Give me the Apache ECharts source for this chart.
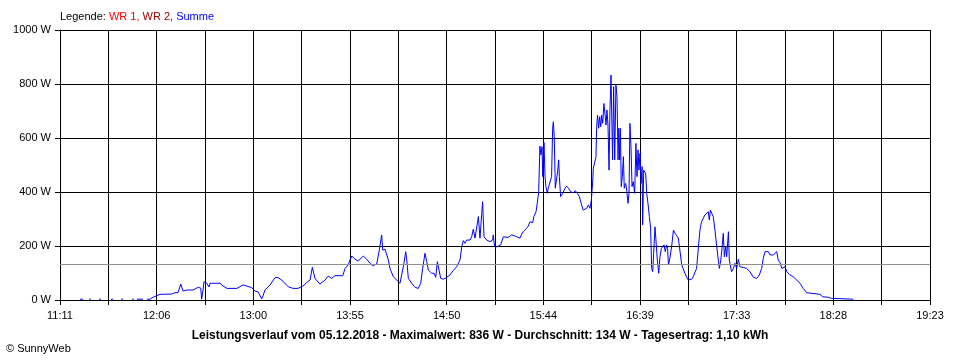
<!DOCTYPE html>
<html><head><meta charset="utf-8">
<script src="https://cdn.jsdelivr.net/npm/echarts@6/dist/echarts.min.js"></script>
<style>html,body{margin:0;padding:0;background:#fff}#c{width:960px;height:360px}</style>
</head><body><div id="c"></div>
<script>
// X axis: minutes after 11:11, total span 492 minutes (11:11 - 19:23)
const tickLabels = ['11:11','12:06','13:00','13:55','14:50','15:44','16:39','17:33','18:28','19:23'];
const spanMinutes = 492;
const yMax = 1000;
const yStep = 200;
const averageW = 134;
const titleText = 'Leistungsverlauf vom 05.12.2018 - Maximalwert: 836 W - Durchschnitt: 134 W - Tagesertrag: 1,10 kWh';
const legendItems = ['WR 1', 'WR 2', 'Summe'];

// Summe series: minutes after 11:11 and power in W (null = gap)
const minutesAfterStart = [
11.3,13.0,14.0,16.4,17.5,20.0,22.1,23.2,26.0,28.8,30.0,32.0,34.5,35.6,38.0,40.7,41.8,42.6,43.5,46.9,48.0,49.2,50.9,
52.6,54.3,56.6,63.2,65.0,66.7,68.3,69.6,71.8,75.2,78.2,79.6,80.1,80.9,81.4,83.0,83.7,84.3,84.8,90.5,92.2,94.4,100.1,
103.5,108.4,110.3,112.0,114.1,114.8,115.9,118.8,121.6,123.3,125.4,129.1,131.8,134.6,135.7,137.4,138.5,140.2,141.4,
142.7,144.2,147.0,149.9,151.7,153.6,155.5,159.9,161.2,163.0,164.0,165.0,166.3,168.7,171.5,173.4,175.3,176.8,179.1,
180.6,181.9,182.5,183.8,184.7,185.7,186.6,188.5,190.4,192.3,193.2,194.5,195.5,196.1,197.0,198.9,200.8,202.6,204.0,
205.1,206.4,207.4,208.3,209.2,210.2,211.5,212.5,213.4,214.3,215.3,216.8,218.7,220.6,222.4,224.3,226.2,227.2,228.1,
229.0,230.0,230.9,231.9,232.8,233.7,234.7,235.6,236.6,237.5,238.5,239.0,239.8,241.3,243.2,244.7,245.0,245.4,246.0,
247.0,247.9,249.2,250.7,251.7,253.5,255.4,256.3,257.3,258.3,260.1,261.1,262.0,263.9,264.8,265.8,267.3,268.0,269.2,
269.9,270.7,271.4,272.0,272.6,273.0,273.7,274.3,274.8,275.6,276.1,277.1,278.0,278.6,279.0,279.5,280.1,280.9,281.4,
282.0,282.4,283.1,284.3,285.6,286.5,287.5,288.8,290.3,291.4,292.6,293.7,295.0,295.9,296.9,297.9,298.8,299.7,300.5,
301.3,301.6,302.6,303.1,303.5,304.0,304.6,305.2,305.8,306.3,306.9,307.6,308.2,308.8,309.3,309.9,310.5,311.0,311.6,
312.0,312.5,313.1,313.7,314.4,315.0,315.6,316.0,316.5,316.9,317.4,318.0,318.6,319.1,319.9,320.5,321.2,321.8,322.3,
322.9,323.5,324.2,325.0,325.7,326.3,326.9,327.4,328.0,328.6,329.2,329.5,330.1,330.7,331.2,331.8,332.5,333.3,334.0,
334.6,335.2,335.7,336.5,337.2,337.8,338.6,339.3,340.1,340.8,341.6,342.3,343.1,343.6,344.1,344.9,346.0,346.9,347.8,
348.8,349.7,350.6,351.6,352.5,353.4,354.4,355.3,356.3,357.2,358.1,359.1,360.0,360.9,361.9,362.8,363.8,364.7,365.7,
366.6,367.2,367.8,368.5,369.4,370.4,371.4,372.3,372.9,373.7,374.2,375.1,375.7,376.5,377.0,378.0,378.5,379.3,379.8,
380.8,381.7,382.7,383.6,384.5,385.5,386.4,388.3,390.2,392.1,393.0,394.0,395.5,396.8,397.7,398.7,399.6,400.6,401.5,
402.5,403.4,404.4,405.3,406.2,407.2,408.2,409.1,410.0,411.0,412.8,414.7,416.6,418.5,420.3,422.3,423.2,429.8,431.3,
434.5,436.4,448.6
];
const watts = [
3,3,null,3,3,null,3,3,null,3,3,null,3,3,null,3,3,null,3,3,null,3,3,
10,15,21,22,27,27,59,33,37,37,47,44,3,37,68,62,62,48,62,62,52,43,43,
56,46,33,30,4,15,37,56,83,83,74,49,43,43,40,52,52,68,74,
121,80,59,74,89,80,90,90,117,130,148,163,154,144,163,151,136,127,133,
185,241,185,188,185,148,117,86,74,62,68,136,179,148,80,62,47,43,62,
117,173,142,111,117,99,99,84,142,142,80,77,84,93,109,123,148,197,220,
210,222,229,222,234,262,229,229,309,229,321,364,234,222,216,222,241,216,195,
191,200,204,234,237,232,241,247,237,234,229,244,253,266,274,290,286,309,327,
358,401,570,537,568,457,583,457,420,395,414,407,457,636,660,605,414,420,475,
519,457,383,395,414,422,414,401,397,405,395,383,352,333,327,340,352,340,370,
444,488,494,531,642,685,636,679,642,685,654,728,734,648,704,648,481,704,833,
836,519,790,519,796,753,519,636,519,636,420,457,531,414,432,407,358,395,654,
568,420,438,395,580,457,556,481,543,432,494,278,481,488,469,395,358,309,266,
117,105,173,271,266,148,99,160,191,185,204,179,204,191,130,154,204,259,247,
247,229,234,130,123,99,84,74,80,77,86,80,117,185,259,290,303,315,321,
327,296,333,327,309,259,197,148,117,148,179,247,160,197,160,253,148,142,105,
117,136,117,151,123,130,121,117,105,84,77,80,93,117,154,179,185,179,167,
160,167,173,179,148,138,117,123,123,105,93,86,74,62,43,27,21,21,12,
10,6,3
];

const fontFam = '"Liberation Sans", Arial, sans-serif';
const sec = 60;
const seriesData = minutesAfterStart.map((m, i) => [m * sec, watts[i] === null ? '-' : watts[i]]);
const labelStep = spanMinutes * sec / (tickLabels.length - 1);

const chart = echarts.init(document.getElementById('c'), null, {renderer: 'canvas'});
chart.setOption({
  backgroundColor: '#ffffff',
  animation: false,
  title: [
    {
      text: '{k|Legende: }{a|' + legendItems[0] + ', }{b|' + legendItems[1] + ', }{c|' + legendItems[2] + '}',
      left: 60, top: 11, padding: 0,
      textStyle: {
        fontSize: 11, fontFamily: fontFam, fontWeight: 'normal',
        rich: {
          k: {color: '#000000', fontSize: 11, fontFamily: fontFam},
          a: {color: '#ff0000', fontSize: 11, fontFamily: fontFam},
          b: {color: '#a00000', fontSize: 11, fontFamily: fontFam},
          c: {color: '#0000ff', fontSize: 11, fontFamily: fontFam}
        }
      }
    },
    {
      text: titleText,
      left: 'center', top: 330, padding: 0,
      textStyle: {fontSize: 12, fontWeight: 'bold', color: '#000', fontFamily: fontFam}
    },
    {
      text: '© SunnyWeb',
      left: 6, top: 343, padding: 0,
      textStyle: {fontSize: 11, fontWeight: 'normal', color: '#000', fontFamily: fontFam}
    }
  ],
  grid: {left: 60, right: 30, top: 30, bottom: 60, containLabel: false},
  xAxis: {
    type: 'value', min: 0, max: spanMinutes * sec, interval: labelStep / 2,
    axisLine: {show: true, lineStyle: {color: '#000', width: 1}},
    axisTick: {show: true, length: 5, lineStyle: {color: '#000'}},
    splitLine: {show: true, lineStyle: {color: '#000', width: 1}},
    axisLabel: {
      color: '#000', fontSize: 11, fontFamily: fontFam, margin: 10,
      formatter: function (v) {
        const k = v / labelStep;
        const r = Math.round(k);
        if (Math.abs(k - r) > 1e-6) return '';
        return tickLabels[r] || '';
      }
    }
  },
  yAxis: {
    type: 'value', min: 0, max: yMax, interval: yStep,
    axisLine: {show: true, lineStyle: {color: '#000', width: 1}},
    axisTick: {show: true, length: 5, lineStyle: {color: '#000'}},
    splitLine: {show: true, lineStyle: {color: '#000', width: 1}},
    axisLabel: {color: '#000', fontSize: 11, fontFamily: fontFam, margin: 9,
      formatter: function (v) { return String(v) + ' W'; }}
  },
  series: [
    {
      type: 'line', data: [], z: 1, silent: true,
      markLine: {
        silent: true, symbol: 'none', label: {show: false},
        lineStyle: {color: '#909090', width: 1, type: 'solid'},
        data: [{yAxis: averageW}]
      }
    },
    {
      name: legendItems[2], type: 'line', data: seriesData, z: 3,
      showSymbol: false, connectNulls: false,
      lineStyle: {color: '#0000ff', width: 1},
      itemStyle: {color: '#0000ff'}
    }
  ]
});
</script>
</body></html>
